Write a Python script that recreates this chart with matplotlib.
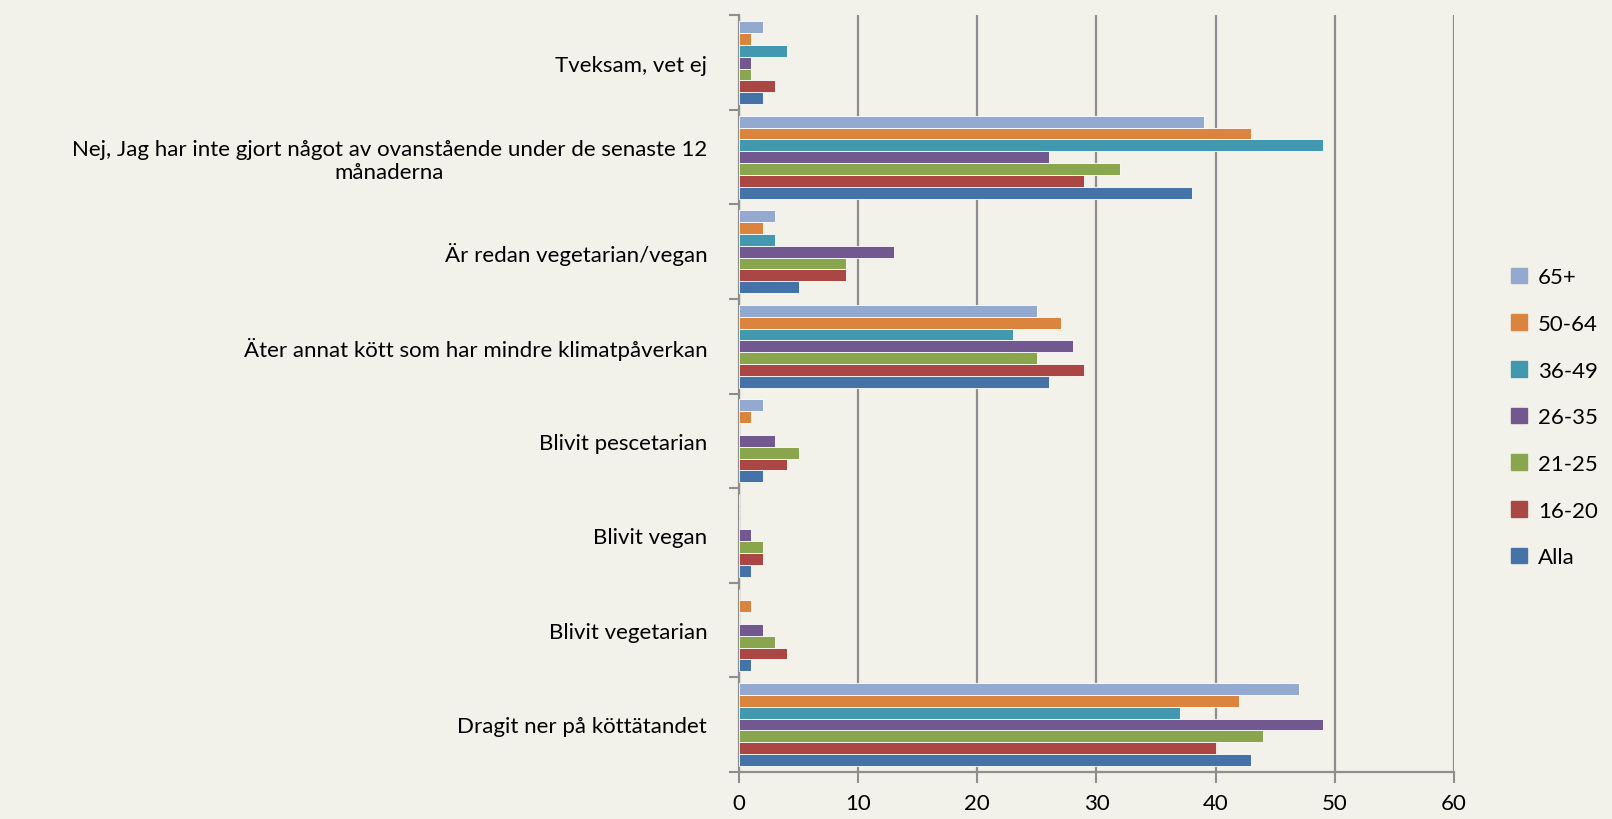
import matplotlib.pyplot as plt
import matplotlib.patches as mpatches
import numpy as np

plt.rcParams['font.family'] = ['Lato', 'DejaVu Sans']

# categories, bottom to top
categories = [
    'Dragit ner på köttätandet',
    'Blivit vegetarian',
    'Blivit vegan',
    'Blivit pescetarian',
    'Äter annat kött som har mindre klimatpåverkan',
    'Är redan vegetarian/vegan',
    'Nej, Jag har inte gjort något av ovanstående under de senaste 12\nmånaderna',
    'Tveksam, vet ej',
]

# series, bottom bar first
series_names = ['Alla', '16-20', '21-25', '26-35', '36-49', '50-64', '65+']
alla = [43, 1, 1, 2, 26, 5, 38, 2]
age_16_20 = [40, 4, 2, 4, 29, 9, 29, 3]
age_21_25 = [44, 3, 2, 5, 25, 9, 32, 1]
age_26_35 = [49, 2, 1, 3, 28, 13, 26, 1]
age_36_49 = [37, 0, 0, 0, 23, 3, 49, 4]
age_50_64 = [42, 1, 0, 1, 27, 2, 43, 1]
age_65 = [47, 0, 0, 2, 25, 3, 39, 2]
values = [alla, age_16_20, age_21_25, age_26_35, age_36_49, age_50_64, age_65]

colors = ['#4572A7', '#AA4643', '#89A54E', '#71588F', '#4198AF', '#DB843D', '#93A9D0']
bg = '#F2F2EA'

fig = plt.figure(figsize=(16.12, 8.2), dpi=100, facecolor=bg)
ax = fig.add_axes([0.4585, 0.0576, 0.4433, 0.9224])
ax.set_facecolor(bg)

y = np.arange(len(categories))
h = 0.125
for i, (vals, c) in enumerate(zip(values, colors)):
    ax.barh(y + (i - 3) * h, vals, height=h, color=c, edgecolor='#ffffff',
            linewidth=0.6, zorder=3)

ax.set_xlim(0, 60)
ax.set_ylim(-0.5, len(categories) - 0.5)
ax.set_xticks(np.arange(0, 61, 10))
ax.xaxis.grid(True, color='#8E8E8E', linewidth=1.6, zorder=1)
ax.tick_params(axis='x', length=8, width=1.5, color='#8E8E8E', labelsize=16, pad=7)

ax.set_yticks(y)
ax.set_yticklabels(categories, fontsize=16, ha='right', multialignment='center')
ax.tick_params(axis='y', which='major', length=0, pad=23)
ax.set_yticks(np.arange(-0.5, len(categories), 1), minor=True)
ax.tick_params(axis='y', which='minor', length=7, width=1.5, color='#8E8E8E')

for s in ['top', 'right']:
    ax.spines[s].set_visible(False)
for s in ['left', 'bottom']:
    ax.spines[s].set_color('#8E8E8E')
    ax.spines[s].set_linewidth(1.6)

handles = [mpatches.Patch(color=c, label=n) for n, c in zip(series_names, colors)]
handles = handles[::-1]
fig.legend(handles=handles, loc='center left', bbox_to_anchor=(0.925, 0.49),
           frameon=False, fontsize=16, labelspacing=1.2, handlelength=0.7,
           handleheight=0.7, handletextpad=0.5)

fig.savefig('out.png', dpi=100, facecolor=bg)
